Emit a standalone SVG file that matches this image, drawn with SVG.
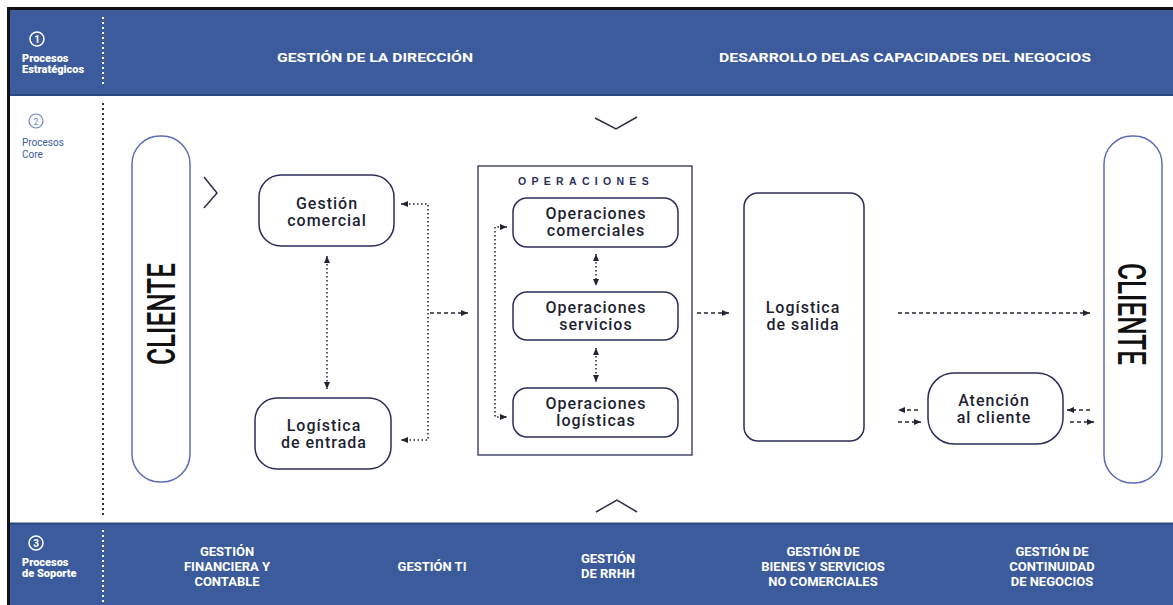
<svg xmlns="http://www.w3.org/2000/svg" width="1173" height="605" viewBox="0 0 1173 605">
  <style>
    .band { fill: #3b5b9c; }
    .bandEdge { stroke: #2a4680; stroke-width: 2; }
    .bandTxt { font-family: Roboto, "Liberation Sans", sans-serif; font-weight: 700; font-size: 13px; fill: #ffffff; text-anchor: middle; }
    .sideTxt { font-family: Roboto, "Liberation Sans", sans-serif; font-weight: 900; font-size: 11px; fill: #ffffff; }
    .coreTxt { font-family: Roboto, "Liberation Sans", sans-serif; font-size: 10px; fill: #3b5b9c; }
    .node { fill: #ffffff; stroke: #2b2e5a; stroke-width: 1.5; }
    .client { fill: #ffffff; stroke: #5b6cb8; stroke-width: 1.5; }
    .lbl { font-family: Roboto, "Liberation Sans", sans-serif; font-weight: 500; font-size: 16px; letter-spacing: 1px; fill: #1e1f33; text-anchor: middle; }
    .clientTxt { font-family: Roboto, "Liberation Sans", sans-serif; font-weight: 500; font-size: 39px; fill: #111111; text-anchor: middle; }
    .chev { fill: none; stroke: #2b2e45; stroke-width: 1.5; }
    .dash { fill: none; stroke: #222433; stroke-width: 1.3; stroke-dasharray: 4 3; }
    .dot { fill: none; stroke: #222433; stroke-width: 1.5; stroke-dasharray: 1.5 2.5; }
    .sep { stroke: #333333; stroke-width: 2; stroke-dasharray: 2 3; }
    .sepW { stroke: #ffffff; stroke-width: 2; stroke-dasharray: 2 3; }
  </style>
  <defs>
    <marker id="arr" viewBox="0 0 7 6" refX="7" refY="3" markerWidth="7" markerHeight="6" markerUnits="userSpaceOnUse" orient="auto-start-reverse">
      <path d="M0,0 L7,3 L0,6 z" fill="#222433"/>
    </marker>
  </defs>

  <!-- page -->
  <rect x="0" y="0" width="1173" height="605" fill="#ffffff"/>

  <!-- strategic band -->
  <g id="band-estrategicos">
    <rect class="band" x="9" y="9" width="1164" height="86"/>
    <line class="bandEdge" x1="9" y1="95" x2="1173" y2="95"/>
    <circle cx="37" cy="39" r="7" fill="none" stroke="#ffffff" stroke-width="1.5"/>
    <text x="37" y="43" font-family="Roboto, sans-serif" font-weight="700" font-size="10" fill="#ffffff" text-anchor="middle">1</text>
    <text class="sideTxt" x="22" y="62">Procesos</text>
    <text class="sideTxt" x="22" y="73">Estratégicos</text>
    <line class="sepW" x1="103" y1="17" x2="103" y2="85"/>
    <text class="bandTxt" x="375" y="62" font-size="14" textLength="196" lengthAdjust="spacingAndGlyphs">GESTIÓN DE LA DIRECCIÓN</text>
    <text class="bandTxt" x="905" y="62" font-size="14" textLength="372" lengthAdjust="spacingAndGlyphs">DESARROLLO DELAS CAPACIDADES DEL NEGOCIOS</text>
  </g>

  <!-- outer frame -->
  <path d="M8.5,605 V8.5 H1173" fill="none" stroke="#111111" stroke-width="3"/>

  <!-- core label -->
  <g id="core-label">
    <circle cx="36" cy="121" r="7" fill="none" stroke="#6f86bf" stroke-width="1.2"/>
    <text x="36" y="124.5" font-family="Roboto, sans-serif" font-size="9" fill="#6f86bf" text-anchor="middle">2</text>
    <text class="coreTxt" x="22" y="146">Procesos</text>
    <text class="coreTxt" x="22" y="158">Core</text>
    <line class="sep" x1="103" y1="103" x2="103" y2="515"/>
  </g>

  <!-- support band -->
  <g id="band-soporte">
    <rect class="band" x="10" y="523" width="1163" height="82"/>
    <line class="bandEdge" x1="10" y1="523.5" x2="1173" y2="523.5"/>
    <circle cx="36" cy="543" r="7" fill="none" stroke="#ffffff" stroke-width="1.5"/>
    <text x="36" y="547" font-family="Roboto, sans-serif" font-weight="700" font-size="10" fill="#ffffff" text-anchor="middle">3</text>
    <text class="sideTxt" x="22" y="566">Procesos</text>
    <text class="sideTxt" x="22" y="577">de Soporte</text>
    <line class="sepW" x1="103" y1="530" x2="103" y2="605"/>
    <text class="bandTxt"><tspan x="227" y="556">GESTIÓN</tspan><tspan x="227" y="571">FINANCIERA Y</tspan><tspan x="227" y="586">CONTABLE</tspan></text>
    <text class="bandTxt" x="432" y="571">GESTIÓN TI</text>
    <text class="bandTxt"><tspan x="608" y="563">GESTIÓN</tspan><tspan x="608" y="578">DE RRHH</tspan></text>
    <text class="bandTxt"><tspan x="823" y="556">GESTIÓN DE</tspan><tspan x="823" y="571">BIENES Y SERVICIOS</tspan><tspan x="823" y="586">NO COMERCIALES</tspan></text>
    <text class="bandTxt"><tspan x="1052" y="556">GESTIÓN DE</tspan><tspan x="1052" y="571">CONTINUIDAD</tspan><tspan x="1052" y="586">DE NEGOCIOS</tspan></text>
  </g>

  <!-- flow chevrons -->
  <g id="chevrons">
    <polyline class="chev" points="595,118 616,129 637,117"/>
    <polyline class="chev" points="596,512 617,500 637,512"/>
    <polyline class="chev" points="204,177 217,193 204,208"/>
  </g>

  <!-- nodes -->
  <g id="cliente-in">
    <rect class="client" x="132" y="136" width="58" height="346" rx="28"/>
    <text class="clientTxt" transform="translate(161,314) rotate(-90)" x="0" y="14" textLength="102" lengthAdjust="spacingAndGlyphs">CLIENTE</text>
  </g>

  <g id="gestion-comercial">
    <rect class="node" x="259" y="175" width="135" height="71" rx="22"/>
    <text class="lbl"><tspan x="327" y="209">Gestión</tspan><tspan x="327" y="226">comercial</tspan></text>
  </g>

  <g id="logistica-entrada">
    <rect class="node" x="255" y="398" width="136" height="71" rx="22"/>
    <text class="lbl"><tspan x="324" y="431">Logística</tspan><tspan x="324" y="448">de entrada</tspan></text>
  </g>

  <g id="operaciones">
    <rect x="478" y="166" width="214" height="289" fill="none" stroke="#2b2e5a" stroke-width="1.3"/>
    <text x="586" y="185" font-family="'Liberation Sans', sans-serif" font-weight="700" font-size="10.5" letter-spacing="5.3" fill="#2b2e5a" text-anchor="middle">OPERACIONES</text>
  </g>

  <g id="op-comerciales">
    <rect class="node" x="513" y="198" width="165" height="49" rx="14"/>
    <text class="lbl"><tspan x="596" y="219">Operaciones</tspan><tspan x="596" y="236">comerciales</tspan></text>
  </g>

  <g id="op-servicios">
    <rect class="node" x="513" y="292" width="165" height="48" rx="14"/>
    <text class="lbl"><tspan x="596" y="313">Operaciones</tspan><tspan x="596" y="330">servicios</tspan></text>
  </g>

  <g id="op-logisticas">
    <rect class="node" x="513" y="388" width="165" height="49" rx="14"/>
    <text class="lbl"><tspan x="596" y="409">Operaciones</tspan><tspan x="596" y="426">logísticas</tspan></text>
  </g>

  <g id="logistica-salida">
    <rect class="node" x="744" y="193" width="120" height="248" rx="14"/>
    <text class="lbl"><tspan x="803" y="313">Logística</tspan><tspan x="803" y="330">de salida</tspan></text>
  </g>

  <g id="atencion-cliente">
    <rect class="node" x="928" y="373" width="135" height="71" rx="26"/>
    <text class="lbl"><tspan x="994" y="406">Atención</tspan><tspan x="994" y="423">al cliente</tspan></text>
  </g>

  <g id="cliente-out">
    <rect class="client" x="1104" y="136" width="58" height="347" rx="28"/>
    <text class="clientTxt" transform="translate(1132,314) rotate(90)" x="0" y="14" textLength="102" lengthAdjust="spacingAndGlyphs">CLIENTE</text>
  </g>

  <!-- connectors -->
  <g id="connectors">
    <line class="dot" x1="327" y1="256" x2="327" y2="389" marker-start="url(#arr)" marker-end="url(#arr)"/>
    <path class="dot" d="M401,204 H428 V440 H401" marker-start="url(#arr)" marker-end="url(#arr)"/>
    <line class="dash" x1="430" y1="313" x2="468" y2="313" marker-end="url(#arr)"/>
    <path class="dot" d="M507,227 H495 V417 H507" marker-start="url(#arr)" marker-end="url(#arr)"/>
    <line class="dot" x1="596" y1="254" x2="596" y2="286" marker-start="url(#arr)" marker-end="url(#arr)"/>
    <line class="dot" x1="596" y1="348" x2="596" y2="382" marker-start="url(#arr)" marker-end="url(#arr)"/>
    <line class="dash" x1="697" y1="313" x2="729" y2="313" marker-end="url(#arr)"/>
    <line class="dash" x1="898" y1="313" x2="1090" y2="313" marker-end="url(#arr)"/>
    <line class="dash" x1="918" y1="410" x2="898" y2="410" marker-end="url(#arr)"/>
    <line class="dash" x1="898" y1="422" x2="921" y2="422" marker-end="url(#arr)"/>
    <line class="dash" x1="1090" y1="410" x2="1067" y2="410" marker-end="url(#arr)"/>
    <line class="dash" x1="1070" y1="422" x2="1094" y2="422" marker-end="url(#arr)"/>
  </g>
</svg>
